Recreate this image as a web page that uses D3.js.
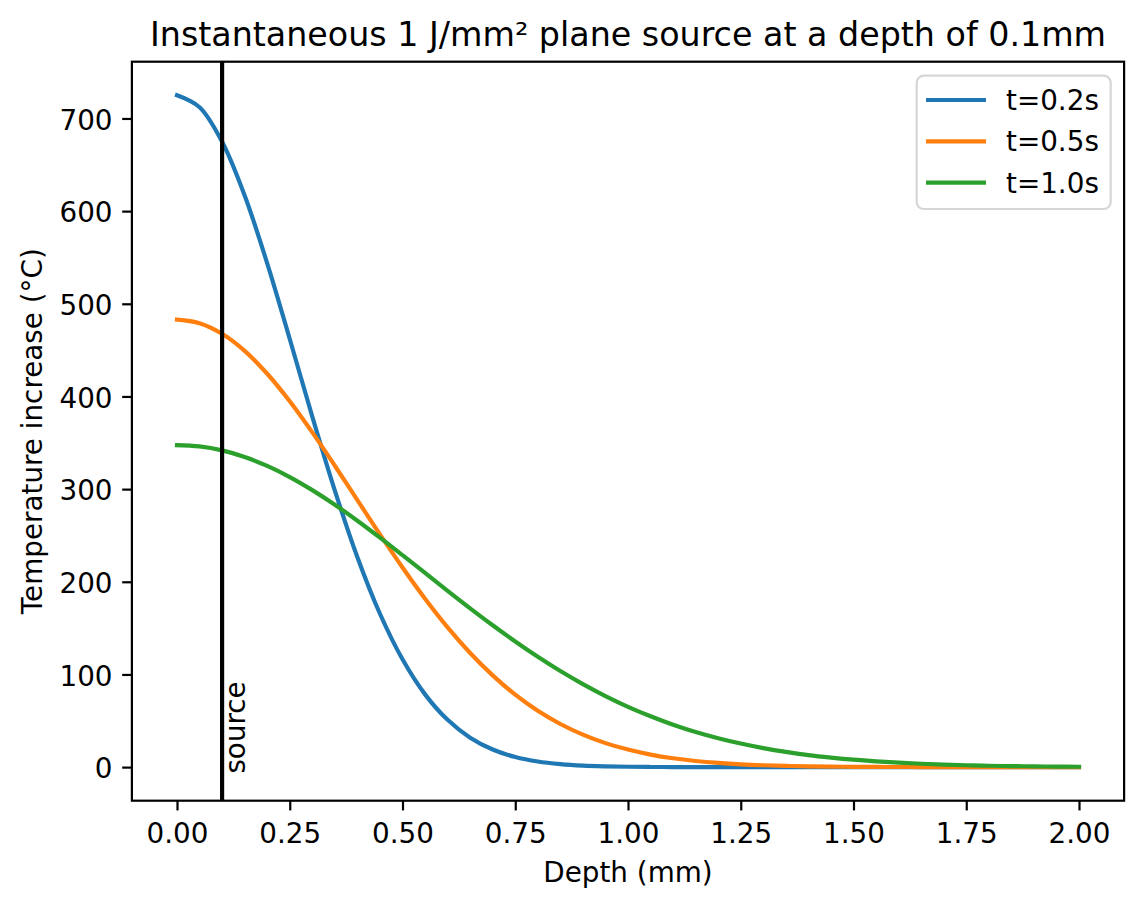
<!DOCTYPE html>
<html>
<head>
<meta charset="utf-8">
<script src="https://cdn.jsdelivr.net/npm/d3@7"></script>
<style>
  html, body { margin: 0; padding: 0; background: #fff; }
  svg { display: block; font-family: "DejaVu Sans", sans-serif; }
</style>
</head>
<body>
<svg id="chart" width="1143" height="908"></svg>
<script>
const depths = [0.00,0.05,0.10,0.15,0.20,0.25,0.30,0.35,0.40,0.45,0.50,0.55,0.60,0.65,0.70,0.75,0.80,0.85,0.90,0.95,
  1.00,1.05,1.10,1.15,1.20,1.25,1.30,1.35,1.40,1.45,1.50,1.55,1.60,1.65,1.70,1.75,1.80,1.85,1.90,1.95,2.00];

const seriesNames = ["t=0.2s", "t=0.5s", "t=1.0s"];
const seriesColors = ["#1f77b4", "#ff7f0e", "#2ca02c"];

const t02 = [725.0,712.1,674.8,616.8,543.7,462.0,378.3,298.4,226.5,165.5,116.3,78.5,51.0,31.8,19.0,10.9,6.0,3.2,1.6,0.8,
  0.36,0.16,0.07,0.03,0.01,0,0,0,0,0,0,0,0,0,0,0,0,0,0,0,0];
const t05 = [483.0,479.1,467.6,449.2,424.5,394.8,361.2,325.2,288.1,251.1,215.4,181.7,150.8,123.2,99.0,78.2,60.8,46.5,35.0,25.9,
  18.9,13.5,9.5,6.6,4.5,3.0,2.0,1.3,0.8,0.5,0.3,0.2,0.11,0.07,0.04,0.02,0.01,0,0,0,0];
const t10 = [347.5,346.1,341.8,334.7,325.0,313.0,298.9,283.1,265.9,247.6,228.7,209.5,190.3,171.4,153.1,135.6,119.1,103.7,89.6,76.7,
  65.1,54.9,45.8,37.9,31.2,25.4,20.5,16.4,13.0,10.3,8.0,6.2,4.8,3.6,2.7,2.0,1.5,1.1,0.8,0.6,0.4];

const sourceDepth = 0.1;
const xTicks = [0,0.25,0.5,0.75,1.0,1.25,1.5,1.75,2.0];
const yTicks = [0,100,200,300,400,500,600,700];

const titleText = "Instantaneous 1 J/mm\u00B2 plane source at a depth of 0.1mm";
const xLabelText = "Depth (mm)";
const yLabelText = "Temperature increase (\u00B0C)";

const svg = d3.select("#chart");
svg.append("rect").attr("width", 1143).attr("height", 908).attr("fill", "#fff");

const L = 131.9, R = 1124.1, T = 61.7, B = 800.7;
const x = d3.scaleLinear().domain([-0.1, 2.1]).range([L, R]);
const y = d3.scaleLinear().domain([-36.25, 761.25]).range([B, T]);

const FS = 27.8;
const LW = 4.17;
const SW = 2.2;

const allSeries = [t02, t05, t10];

svg.append("clipPath").attr("id", "clip")
  .append("rect").attr("x", L).attr("y", T).attr("width", R - L).attr("height", B - T);

const plot = svg.append("g").attr("clip-path", "url(#clip)");

const line = d3.line()
  .x((d, i) => x(depths[i]))
  .y(d => y(d))
  .curve(d3.curveCatmullRom.alpha(0.5));

allSeries.forEach((s, k) => {
  plot.append("path")
    .datum(s)
    .attr("d", line)
    .attr("fill", "none")
    .attr("stroke", seriesColors[k])
    .attr("stroke-width", LW)
    .attr("stroke-linecap", "square")
    .attr("stroke-linejoin", "round");
});

// source line
plot.append("line")
  .attr("x1", x(sourceDepth)).attr("x2", x(sourceDepth))
  .attr("y1", T).attr("y2", B)
  .attr("stroke", "#000").attr("stroke-width", LW);

svg.append("text")
  .attr("transform", `translate(${x(sourceDepth) + 22.5},${y(0) + 6.5}) rotate(-90)`)
  .attr("font-size", FS)
  .attr("fill", "#000")
  .text("source");

// axes
const xAxis = d3.axisBottom(x).tickValues(xTicks).tickFormat(d3.format(".2f"))
  .tickSize(9.7).tickPadding(9.7);
const gx = svg.append("g").attr("transform", `translate(0,${B})`).call(xAxis);
gx.select(".domain").remove();
gx.selectAll(".tick line").attr("stroke", "#000").attr("stroke-width", SW);
gx.selectAll(".tick text").attr("font-size", FS).attr("font-family", "DejaVu Sans")
  .attr("fill", "#000").attr("dy", null).attr("y", 41.9);

const yAxis = d3.axisLeft(y).tickValues(yTicks).tickFormat(d3.format("d"))
  .tickSize(9.7).tickPadding(9.7);
const gy = svg.append("g").attr("transform", `translate(${L},0)`).call(yAxis);
gy.select(".domain").remove();
gy.selectAll(".tick line").attr("stroke", "#000").attr("stroke-width", SW);
gy.selectAll(".tick text").attr("font-size", FS).attr("font-family", "DejaVu Sans")
  .attr("fill", "#000").attr("dy", null).attr("y", 10.6);

// frame
svg.append("rect")
  .attr("x", L).attr("y", T).attr("width", R - L).attr("height", B - T)
  .attr("fill", "none").attr("stroke", "#000").attr("stroke-width", SW);

// title and labels
svg.append("text")
  .attr("x", (L + R) / 2).attr("y", 46)
  .attr("text-anchor", "middle")
  .attr("font-size", 33.3)
  .text(titleText);

svg.append("text")
  .attr("x", (L + R) / 2).attr("y", 881.5)
  .attr("text-anchor", "middle")
  .attr("font-size", FS)
  .text(xLabelText);

svg.append("text")
  .attr("transform", `translate(41.5,${(T + B) / 2}) rotate(-90)`)
  .attr("text-anchor", "middle")
  .attr("font-size", FS)
  .text(yLabelText);

// legend
const lg = svg.append("g");
lg.append("rect")
  .attr("x", 916.7).attr("y", 75.7).attr("width", 194).attr("height", 133.3)
  .attr("rx", 7).attr("ry", 7)
  .attr("fill", "#fff").attr("fill-opacity", 0.8)
  .attr("stroke", "#d6d6d6").attr("stroke-width", 2.2);

const legendY = [100, 141.3, 182.6];
seriesNames.forEach((name, k) => {
  lg.append("line")
    .attr("x1", 926).attr("x2", 986)
    .attr("y1", legendY[k]).attr("y2", legendY[k])
    .attr("stroke", seriesColors[k]).attr("stroke-width", LW);
  lg.append("text")
    .attr("x", 1006).attr("y", legendY[k] + 10)
    .attr("font-size", FS)
    .text(name);
});
</script>
</body>
</html>
